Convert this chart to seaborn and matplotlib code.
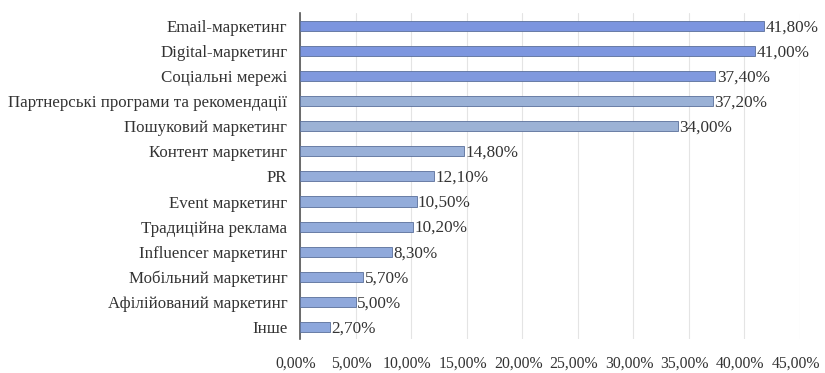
import matplotlib
matplotlib.use("Agg")
import matplotlib.pyplot as plt
import matplotlib.transforms as mtransforms
import seaborn as sns
import pandas as pd

categories = [
    "Email-маркетинг",
    "Digital-маркетинг",
    "Соціальні мережі",
    "Партнерські програми та рекомендації",
    "Пошуковий маркетинг",
    "Контент маркетинг",
    "PR",
    "Event маркетинг",
    "Традиційна реклама",
    "Influencer маркетинг",
    "Мобільний маркетинг",
    "Афілійований маркетинг",
    "Інше",
]
values = [41.8, 41.0, 37.4, 37.2, 34.0, 14.8, 12.1, 10.5, 10.2, 8.3, 5.7, 5.0, 2.7]
x_ticks = [0, 5, 10, 15, 20, 25, 30, 35, 40, 45]

bar_colors = [
    "#6c8def", "#6d8eef", "#7091ee", "#90afe0", "#92b0df", "#8eade3", "#8aaae5",
    "#87a8e6", "#86a7e6", "#84a5e7", "#82a4e8", "#82a4e8", "#80a3e9",
]

df = pd.DataFrame({"category": categories, "value": values})

sns.set_theme(style="white")
plt.rcParams["font.family"] = ["Liberation Serif", "DejaVu Serif"]

fig = plt.figure(figsize=(8.25, 3.73), dpi=100)
ax = fig.add_axes([0.3636, 0.09, 0.606, 0.874])

sns.barplot(
    data=df, x="value", y="category", hue="category",
    palette=bar_colors, legend=False, orient="h", width=0.4,
    edgecolor="#5a6f9a", linewidth=0.6, ax=ax, zorder=3,
)

def pct(v):
    return f"{v:.2f}%".replace(".", ",")

for i, v in enumerate(values):
    ax.text(v + 0.12, i + 0.06, pct(v), va="center", ha="left",
            fontsize=12.3, color="#333333")

ax.set_xlim(0, 45)
ax.set_ylim(len(categories) - 0.5, -0.5)
ax.set_xticks(x_ticks)
ax.set_xticklabels([pct(t) for t in x_ticks], fontsize=11.3, color="#333333")
ax.tick_params(axis="x", length=0, pad=12)
ax.tick_params(axis="y", length=0, pad=9, labelsize=12.2, labelcolor="#333333")
# nudge the percentage tick labels slightly to the left
shift = mtransforms.ScaledTranslation(-4 / 100, 0, fig.dpi_scale_trans)
for lab in ax.get_xticklabels():
    lab.set_transform(lab.get_transform() + shift)
ax.set_xlabel("")
ax.set_ylabel("")
ax.grid(axis="x", color="#e4e4e4", linewidth=0.8, zorder=0)
ax.set_axisbelow(True)
for side in ["top", "right", "bottom"]:
    ax.spines[side].set_visible(False)
ax.spines["left"].set_color("#555555")
ax.spines["left"].set_linewidth(1.2)

fig.savefig("out.png", dpi=100, facecolor="white")
